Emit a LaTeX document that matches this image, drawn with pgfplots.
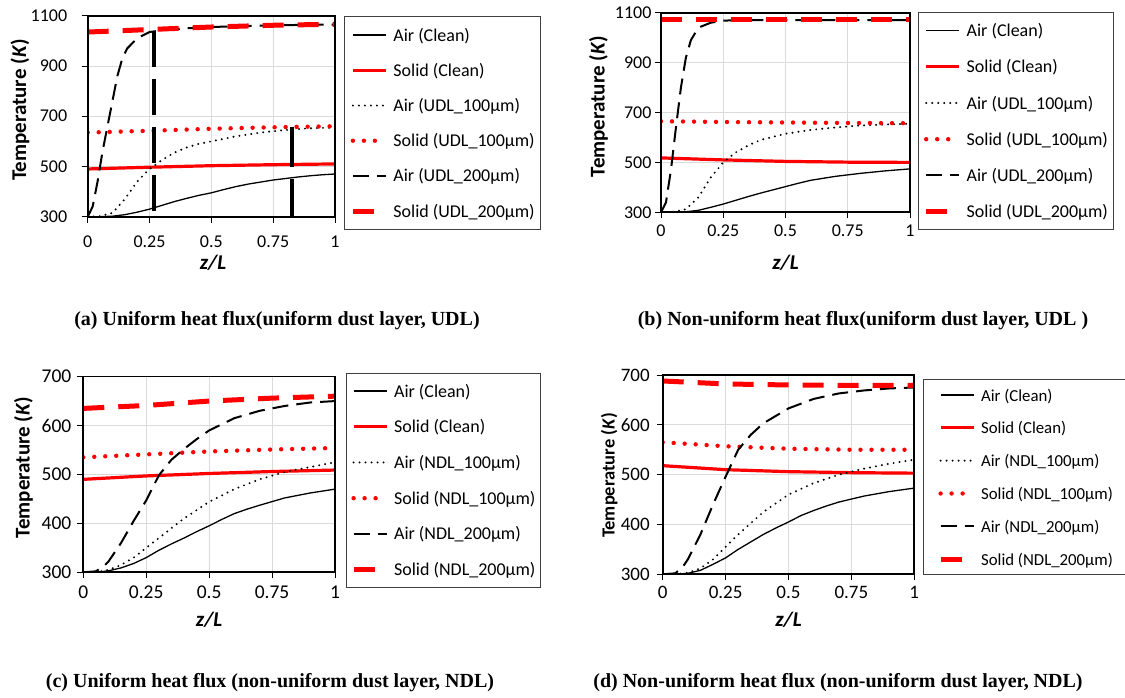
\documentclass[border=0pt]{standalone}
\usepackage{pgfplots}
\pgfplotsset{compat=1.18}
\usepackage{fontspec}
\setmainfont{Carlito}
\newfontfamily\capfont{Liberation Serif}
\definecolor{cred}{RGB}{255,0,0}
\pgfplotsset{
  panel/.style={
    scale only axis, xmin=0, xmax=1,
    xtick={0,0.25,0.5,0.75,1}, xticklabels={0,0.25,0.5,0.75,1},
    grid=major, grid style={draw=black!14, line width=0.8pt},
    axis line style={draw=black, line width=1.7pt},
    tick pos=left,
    tick align=outside, major tick length=6pt, tick style={line width=0.9pt, black},
    /pgf/number format/assume math mode=true,
    /pgf/number format/1000 sep={},
    no markers,
    legend cell align=left,
    legend image code/.code={\draw[##1] (0pt,0pt) -- (33pt,0pt); \path (38pt,0pt);},
    legend style={anchor=north west, draw=black!75, line width=0.8pt,
      nodes={inner sep=0pt, text height=16pt, text depth=4pt},
      column sep=0pt},
    after end axis/.code={\draw[black, line width=1.7pt] (rel axis cs:0,0) rectangle (rel axis cs:1,1);},
  },
  airclean/.style={black, line width=1.3pt},
  solidclean/.style={cred, line width=3.2pt},
  airA/.style={black, line width=2.2pt, line cap=round, dash pattern=on 0pt off 6pt},
  solidA/.style={cred, line width=4.4pt, line cap=round, dash pattern=on 0pt off 11pt},
  airB/.style={black, line width=2pt, dash pattern=on 16pt off 8pt},
  solidB/.style={cred, line width=5pt, dash pattern=on 21pt off 14pt},
}
\begin{document}
\begin{tikzpicture}
\useasboundingbox (0,0) rectangle (1125pt,-698pt);
% ---------------- (a)
\begin{axis}[panel, at={(87.7pt,-216.7pt)}, anchor=south west, width=247.3pt, height=201pt,
  ymin=300, ymax=1100, ytick={300,500,700,900,1100},
  ticklabel style={font=\fontsize{18}{21}\selectfont},
  yticklabel shift=11pt,
  xticklabel style={anchor=center, yshift=-19pt},
  ylabel={\textbf{Temperature (\textit{K})}}, xlabel={\textbf{\textit{z/L}}},
  ylabel style={font=\fontsize{21}{24}\selectfont, at={(axis description cs:-0.274,0.531)}, anchor=center, rotate=0},
  xlabel style={font=\fontsize{21}{24}\selectfont, at={(axis description cs:0.507,-0.230)}, anchor=center},
  legend style={at={(axis description cs:1.0376,0.9985)}, inner xsep=5.7pt, inner ysep=8.7pt, row sep=15.2pt, font=\fontsize{18}{21}\selectfont},
]
\addplot[airclean] coordinates {(0,300)(0.05,300)(0.1,302)(0.15,308)(0.2,318)(0.25,330)(0.3,345)(0.35,360)(0.4,373)(0.45,385)(0.5,395)(0.55,408)(0.6,420)(0.65,430)(0.7,438)(0.75,446)(0.8,452)(0.85,458)(0.9,463)(0.95,467)(1,470)};
\addlegendentry{Air (Clean)}
\addplot[solidclean] coordinates {(0,490)(0.25,497)(0.5,503)(0.75,507)(1,510)};
\addlegendentry{Solid (Clean)}
\addplot[airA] coordinates {(0,300)(0.05,302)(0.1,315)(0.15,370)(0.2,440)(0.25,490)(0.3,525)(0.35,555)(0.4,575)(0.45,590)(0.5,600)(0.6,620)(0.7,635)(0.8,645)(0.9,652)(1,655)};
\addlegendentry{Air (UDL\_100µm)}
\addplot[solidA] coordinates {(0,635)(0.25,642)(0.5,650)(0.75,656)(1,660)};
\addlegendentry{Solid (UDL\_100µm)}
\addplot[airB] coordinates {(0,300)(0.02,340)(0.04,440)(0.06,560)(0.08,660)(0.1,760)(0.12,860)(0.14,930)(0.16,970)(0.2,1010)(0.25,1035)(0.3,1042)(0.4,1050)(0.5,1055)(0.6,1058)(0.75,1062)(1,1065)};
\addlegendentry{Air (UDL\_200µm)}
\addplot[solidB] coordinates {(0,1035)(0.25,1045)(0.5,1055)(0.75,1062)(1,1066)};
\addlegendentry{Solid (UDL\_200µm)}
\addplot[forget plot, black, line width=3.8pt, dash pattern=on 36pt off 12pt] coordinates {(0.269,1040)(0.269,300)};
\addplot[forget plot, black, line width=3.8pt, dash pattern=on 40pt off 12pt] coordinates {(0.827,658)(0.827,300)};
\end{axis}
% ---------------- (b)
\begin{axis}[panel, at={(661pt,-212.3pt)}, anchor=south west, width=249pt, height=199.6pt,
  ymin=300, ymax=1100, ytick={300,500,700,900,1100},
  ticklabel style={font=\fontsize{18}{21}\selectfont},
  yticklabel shift=0pt,
  xticklabel style={anchor=center, yshift=-12pt},
  ylabel={\textbf{Temperature (\textit{K})}}, xlabel={\textbf{\textit{z/L}}},
  ylabel style={font=\fontsize{21}{24}\selectfont, at={(axis description cs:-0.251,0.529)}, anchor=center, rotate=0},
  xlabel style={font=\fontsize{21}{24}\selectfont, at={(axis description cs:0.5,-0.254)}, anchor=center},
  legend style={at={(axis description cs:1.0333,1.0035)}, inner xsep=5pt, inner ysep=8.2pt, row sep=16.2pt, font=\fontsize{18}{21}\selectfont},
]
\addplot[airclean] coordinates {(0,300)(0.05,300)(0.1,302)(0.15,308)(0.2,320)(0.25,333)(0.3,348)(0.35,363)(0.4,377)(0.45,390)(0.5,403)(0.55,416)(0.6,428)(0.65,436)(0.7,444)(0.75,450)(0.8,456)(0.85,461)(0.9,466)(0.95,470)(1,474)};
\addlegendentry{Air (Clean)}
\addplot[solidclean] coordinates {(0,518)(0.25,510)(0.5,504)(0.75,501)(1,500)};
\addlegendentry{Solid (Clean)}
\addplot[airA] coordinates {(0,300)(0.05,302)(0.1,312)(0.15,360)(0.2,440)(0.25,500)(0.3,540)(0.35,568)(0.4,590)(0.5,615)(0.6,630)(0.7,640)(0.8,648)(0.9,652)(1,655)};
\addlegendentry{Air (UDL\_100µm)}
\addplot[solidA] coordinates {(0,665)(0.25,662)(0.5,660)(0.75,658)(1,657)};
\addlegendentry{Solid (UDL\_100µm)}
\addplot[airB] coordinates {(0,300)(0.02,340)(0.04,470)(0.06,640)(0.08,800)(0.1,920)(0.12,990)(0.15,1040)(0.2,1060)(0.25,1068)(0.3,1070)(0.5,1070)(1,1070)};
\addlegendentry{Air (UDL\_200µm)}
\addplot[solidB] coordinates {(0,1072)(0.5,1072)(1,1072)};
\addlegendentry{Solid (UDL\_200µm)}
\end{axis}
% ---------------- (c)
\begin{axis}[panel, at={(83.3pt,-572.3pt)}, anchor=south west, width=251.7pt, height=195.7pt,
  ymin=300, ymax=700, ytick={300,400,500,600,700},
  ticklabel style={font=\fontsize{19.5}{22}\selectfont},
  yticklabel shift=2.5pt,
  xticklabel style={anchor=center, yshift=-14pt},
  ylabel={\textbf{Temperature (\textit{K})}}, xlabel={\textbf{\textit{z/L}}},
  ylabel style={font=\fontsize{21}{24}\selectfont, at={(axis description cs:-0.238,0.535)}, anchor=center, rotate=0},
  xlabel style={font=\fontsize{21}{24}\selectfont, at={(axis description cs:0.5,-0.244)}, anchor=center},
  legend style={at={(axis description cs:1.0425,1.020)}, inner xsep=5pt, inner ysep=8pt, row sep=15.7pt, font=\fontsize{18}{21}\selectfont},
]
\addplot[airclean] coordinates {(0,300)(0.05,300)(0.1,303)(0.15,309)(0.2,318)(0.25,330)(0.3,345)(0.35,358)(0.4,370)(0.45,383)(0.5,395)(0.55,408)(0.6,420)(0.65,429)(0.7,437)(0.8,452)(0.9,462)(1,470)};
\addlegendentry{Air (Clean)}
\addplot[solidclean] coordinates {(0,490)(0.25,497)(0.5,502)(0.75,506)(1,509)};
\addlegendentry{Solid (Clean)}
\addplot[airA] coordinates {(0,300)(0.05,300)(0.1,305)(0.15,315)(0.2,330)(0.3,370)(0.4,410)(0.5,444)(0.6,470)(0.7,490)(0.8,505)(0.9,515)(1,525)};
\addlegendentry{Air (NDL\_100µm)}
\addplot[solidA] coordinates {(0,535)(0.25,541)(0.5,547)(0.75,551)(1,554)};
\addlegendentry{Solid (NDL\_100µm)}
\addplot[airB] coordinates {(0,300)(0.05,302)(0.08,312)(0.1,322)(0.15,360)(0.2,405)(0.25,447)(0.3,498)(0.35,530)(0.4,552)(0.45,572)(0.5,590)(0.6,615)(0.7,630)(0.8,640)(0.9,647)(1,650)};
\addlegendentry{Air (NDL\_200µm)}
\addplot[solidB] coordinates {(0,635)(0.25,641)(0.5,650)(0.75,656)(1,660)};
\addlegendentry{Solid (NDL\_200µm)}
\end{axis}
% ---------------- (d)
\begin{axis}[panel, at={(662.7pt,-574.3pt)}, anchor=south west, width=251.6pt, height=199.3pt,
  ymin=300, ymax=700, ytick={300,400,500,600,700},
  ticklabel style={font=\fontsize{19}{22}\selectfont},
  yticklabel shift=3.5pt,
  xticklabel style={anchor=center, yshift=-12pt},
  ylabel={\textbf{Temperature (\textit{K})}}, xlabel={\textbf{\textit{z/L}}},
  ylabel style={font=\fontsize{18.5}{22}\selectfont, at={(axis description cs:-0.213,0.496)}, anchor=center, rotate=0},
  xlabel style={font=\fontsize{21}{24}\selectfont, at={(axis description cs:0.5,-0.229)}, anchor=center},
  legend style={at={(axis description cs:1.0334,0.978)}, inner xsep=15pt, inner ysep=5.3pt, row sep=12.8pt, font=\fontsize{16.8}{20}\selectfont},
]
\addplot[airclean] coordinates {(0,300)(0.05,300)(0.1,302)(0.15,308)(0.2,320)(0.25,333)(0.3,350)(0.35,365)(0.4,380)(0.45,393)(0.5,405)(0.55,418)(0.6,428)(0.65,437)(0.7,445)(0.8,457)(0.9,466)(1,473)};
\addlegendentry{Air (Clean)}
\addplot[solidclean] coordinates {(0,518)(0.25,510)(0.5,506)(0.75,504)(1,503)};
\addlegendentry{Solid (Clean)}
\addplot[airA] coordinates {(0,300)(0.05,300)(0.1,303)(0.15,312)(0.2,330)(0.3,380)(0.4,425)(0.5,460)(0.6,483)(0.7,500)(0.8,512)(0.9,522)(1,530)};
\addlegendentry{Air (NDL\_100µm)}
\addplot[solidA] coordinates {(0,565)(0.25,557)(0.5,552)(0.75,550)(1,550)};
\addlegendentry{Solid (NDL\_100µm)}
\addplot[airB] coordinates {(0,300)(0.05,302)(0.08,315)(0.1,330)(0.15,380)(0.2,440)(0.25,496)(0.3,550)(0.35,580)(0.4,603)(0.5,633)(0.6,652)(0.7,663)(0.8,669)(0.9,673)(1,675)};
\addlegendentry{Air (NDL\_200µm)}
\addplot[solidB] coordinates {(0,688)(0.25,682)(0.5,680)(0.75,679)(1,679)};
\addlegendentry{Solid (NDL\_200µm)}
\end{axis}
% captions
\node[font=\capfont\bfseries\fontsize{20}{24}\selectfont] at (277pt,-320.7pt) {(a) Uniform heat flux(uniform dust layer, UDL)};
\node[font=\capfont\bfseries\fontsize{20}{24}\selectfont] at (863pt,-320.7pt) {(b) Non-uniform heat flux(uniform dust layer, UDL )};
\node[font=\capfont\bfseries\fontsize{20}{24}\selectfont] at (270pt,-683pt) {(c) Uniform heat flux (non-uniform dust layer, NDL)};
\node[font=\capfont\bfseries\fontsize{20}{24}\selectfont] at (838pt,-683pt) {(d) Non-uniform heat flux (non-uniform dust layer, NDL)};
\end{tikzpicture}
\end{document}
